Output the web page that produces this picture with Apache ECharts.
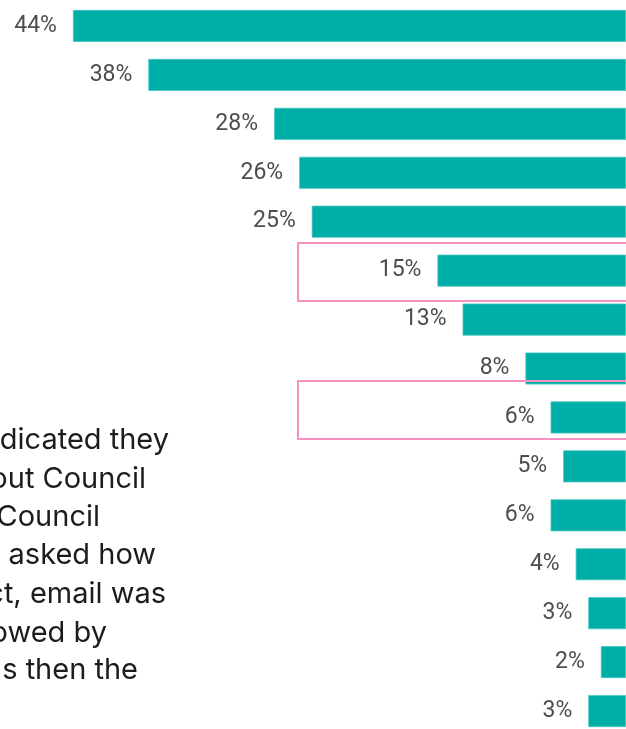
<!DOCTYPE html>
<html>
<head>
<meta charset="utf-8">
<style>
  html, body { margin: 0; padding: 0; background: #ffffff; }
  #chart { width: 626px; height: 729px; }
</style>
<script src="https://cdn.jsdelivr.net/npm/echarts@6/dist/echarts.min.js"></script>
</head>
<body>
<div id="chart"></div>
<script>
// Response options, top to bottom
const categories = [
  'opt01', 'opt02', 'opt03', 'opt04', 'opt05',
  'opt06', 'opt07', 'opt08', 'opt09', 'opt10',
  'opt11', 'opt12', 'opt13', 'opt14', 'opt15'
];
// Share of respondents (%)
const shares = [44, 38, 28, 26, 25, 15, 13, 8, 6, 5, 6, 4, 3, 2, 3];
// Rows picked out with an outline
const highlightedRows = [5, 8];

// Commentary text beside the bars (each line right-aligned at its end)
const noteLines = [
  'respondents indicated they',
  'hear more about Council',
  'from the Council',
  'services. When asked how',
  'they prefer contact, email was',
  'the most preferred, followed by',
  'social media platforms then the'
];
const noteLineEnds = [169, 146, 100, 156, 166, 107, 138];
const noteBaselines = [449, 488, 526, 564, 603, 642, 679];

const chart = echarts.init(document.getElementById('chart'), null, { renderer: 'canvas' });

const option = {
  animation: false,
  backgroundColor: '#ffffff',
  grid: {
    left: 0, right: 0, top: 1.5, height: 734,
    containLabel: false,
    outerBoundsMode: 'none'
  },
  xAxis: {
    type: 'value',
    inverse: true,
    min: 0,
    max: 49.8,
    show: false
  },
  yAxis: {
    type: 'category',
    inverse: true,
    data: categories,
    show: false
  },
  series: [{
    type: 'bar',
    data: shares,
    barWidth: 32,
    itemStyle: {
      color: '#00aea8',
      borderColor: '#45c6c0',
      borderWidth: 0.8
    },
    label: {
      show: true,
      position: 'left',
      distance: 16,
      formatter: '{c}%',
      fontFamily: 'Roboto',
      fontSize: 23,
      color: '#4d4d4d'
    }
  }]
};

chart.setOption(option);

// Outline boxes around highlighted rows, placed from the category axis
const boxOffsets = [[-27.6, 58], [-36.4, 58]];
const graphics = [];
highlightedRows.forEach(function (row, i) {
  const cy = chart.convertToPixel({ yAxisIndex: 0 }, categories[row]);
  graphics.push({
    type: 'rect',
    z: 100,
    shape: { x: 298, y: cy + boxOffsets[i][0], width: 340, height: boxOffsets[i][1] },
    style: { fill: 'none', stroke: '#f592c2', lineWidth: 2 }
  });
});

noteLines.forEach(function (line, i) {
  graphics.push({
    type: 'text',
    z: 50,
    x: noteLineEnds[i],
    y: noteBaselines[i] - 9,
    style: {
      text: line,
      align: 'right',
      verticalAlign: 'middle',
      fontFamily: 'Inter',
      fontSize: 29,
      fill: '#1c1c1c'
    }
  });
});

chart.setOption({ graphic: graphics });
</script>
</body>
</html>
